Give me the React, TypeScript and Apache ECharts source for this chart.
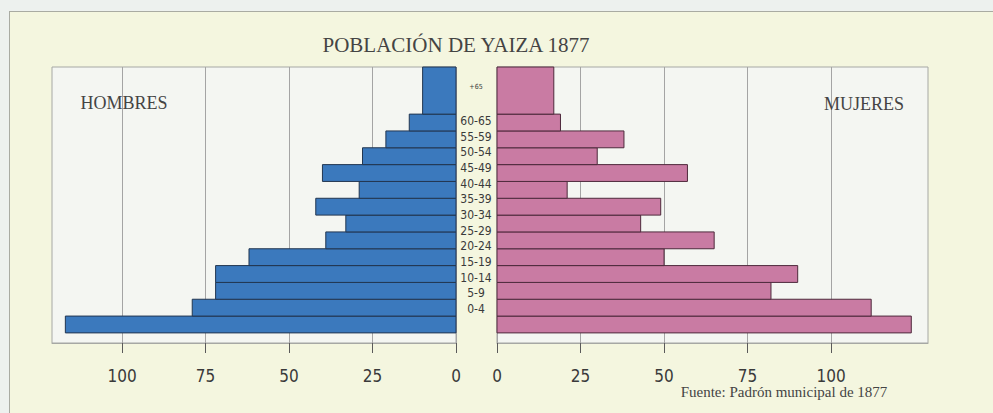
import React, { useEffect, useRef } from "react";
import * as echarts from "echarts";

const AGE_GROUPS = ["0-4", "5-9", "10-14", "15-19", "20-24", "25-29", "30-34", "35-39", "40-44", "45-49", "50-54", "55-59", "60-65", "+65"];
const HOMBRES = [117, 79, 72, 72, 62, 39, 33, 42, 29, 40, 28, 21, 14, 10];
const MUJERES = [124, 112, 82, 90, 50, 65, 43, 49, 21, 57, 30, 38, 19, 17];
const TICKS = [0, 25, 50, 75, 100];

const TITLE = "POBLACIÓN DE YAIZA 1877";
const LEFT_LABEL = "HOMBRES";
const RIGHT_LABEL = "MUJERES";
const SOURCE = "Fuente: Padrón municipal de 1877";

const NARROW = "'Liberation Sans Narrow', 'DejaVu Sans Condensed', 'Roboto Condensed', 'Liberation Sans', Arial, sans-serif";
const SERIF = "'Liberation Serif', 'DejaVu Serif', serif";

const LAST = AGE_GROUPS.length - 1;
const TOP_SPAN = 2.8;

function makeRender(fill: string, stroke: string) {
  return (params: any, api: any) => {
    const v = api.value(0);
    const i = api.value(1);
    const span = i === LAST ? TOP_SPAN : 1;
    const p0 = api.coord([0, i]);
    const p1 = api.coord([v, i + span]);
    return {
      type: "rect",
      shape: {
        x: Math.min(p0[0], p1[0]),
        y: Math.min(p0[1], p1[1]),
        width: Math.abs(p1[0] - p0[0]),
        height: Math.abs(p1[1] - p0[1]),
      },
      style: { fill, stroke, lineWidth: 1 },
    };
  };
}

export default function App() {
  const ref = useRef<HTMLDivElement>(null);
  useEffect(() => {
    document.body.style.margin = "0";
    const chart = echarts.init(ref.current!, null, { renderer: "svg" });
    const gridBase = {
      show: true,
      backgroundColor: "#f4f6f2",
      borderColor: "#a6a8a4",
      borderWidth: 1,
      containLabel: false,
    };
    const xAxisBase = (max: number, inverse: boolean, gridIndex: number) => ({
      type: "value",
      gridIndex,
      position: "bottom",
      min: 0,
      max,
      inverse,
      interval: 25,
      axisLine: { show: true, onZero: false, lineStyle: { color: "#a6a8a4", width: 1 } },
      axisTick: { show: true, inside: false, length: 10, customValues: TICKS, lineStyle: { color: "#5a5a5a", width: 1 } },
      axisLabel: {
        customValues: TICKS,
        fontFamily: NARROW,
        fontSize: 17,
        color: "#3a3a3a",
        margin: 24,
      },
      splitLine: { show: true, lineStyle: { color: "#a4a4a4", width: 1 } },
    });
    const yValue = (gridIndex: number) => ({
      type: "value",
      gridIndex,
      min: -0.6,
      max: LAST + TOP_SPAN,
      show: false,
      splitLine: { show: false },
    });
    chart.setOption({
      animation: false,
      grid: [
        { ...gridBase, left: 52, top: 67, width: 404, height: 276 },
        { ...gridBase, left: 497, top: 67, width: 431, height: 276 },
        { left: 476, top: 113, width: 1, height: 204, show: false },
        { left: 476, top: 70, width: 1, height: 33, show: false },
      ],
      xAxis: [
        xAxisBase(121, true, 0),
        xAxisBase(129, false, 1),
        { type: "value", gridIndex: 2, show: false },
        { type: "value", gridIndex: 3, show: false },
      ],
      yAxis: [
        yValue(0),
        yValue(1),
        {
          type: "category",
          gridIndex: 2,
          data: AGE_GROUPS.slice(0, LAST),
          axisLine: { show: false },
          axisTick: { show: false },
          axisLabel: { align: "center", margin: 0, fontFamily: NARROW, fontSize: 12, color: "#3a3a3a" },
        },
        {
          type: "category",
          gridIndex: 3,
          data: AGE_GROUPS.slice(LAST),
          axisLine: { show: false },
          axisTick: { show: false },
          axisLabel: { align: "center", margin: 0, fontFamily: NARROW, fontSize: 7, color: "#3a3a3a" },
        },
      ],
      series: [
        {
          type: "custom",
          name: LEFT_LABEL,
          xAxisIndex: 0,
          yAxisIndex: 0,
          renderItem: makeRender("#3b79bd", "#223650"),
          data: HOMBRES.map((v, i) => [v, i]),
          z: 5,
        },
        {
          type: "custom",
          name: RIGHT_LABEL,
          xAxisIndex: 1,
          yAxisIndex: 1,
          renderItem: makeRender("#c97ba3", "#4e2a3c"),
          data: MUJERES.map((v, i) => [v, i]),
          z: 5,
        },
      ],
      graphic: [
        {
          type: "text",
          z: 100,
          x: 456,
          y: 45,
          style: { text: TITLE, font: `21px ${SERIF}`, fill: "#444", textAlign: "center", textVerticalAlign: "middle" },
        },
        {
          type: "text",
          z: 100,
          x: 124,
          y: 103,
          style: { text: LEFT_LABEL, font: `18px ${SERIF}`, fill: "#444", textAlign: "center", textVerticalAlign: "middle" },
        },
        {
          type: "text",
          z: 100,
          x: 864,
          y: 104,
          style: { text: RIGHT_LABEL, font: `18px ${SERIF}`, fill: "#444", textAlign: "center", textVerticalAlign: "middle" },
        },
        {
          type: "text",
          z: 100,
          x: 784,
          y: 392,
          style: { text: SOURCE, font: `15px ${SERIF}`, fill: "#444", textAlign: "center", textVerticalAlign: "middle" },
        },
      ],
    });
    return () => chart.dispose();
  }, []);
  return (
    <div style={{ position: "relative", width: 993, height: 413, overflow: "hidden", background: "#edf1ee" }}>
      <div
        style={{
          position: "absolute",
          left: 9,
          top: 11,
          width: 1100,
          height: 500,
          background: "#f4f6df",
          border: "1px solid #a9aba2",
          boxSizing: "border-box",
        }}
      />
      <div ref={ref} style={{ position: "absolute", left: 0, top: 0, width: 993, height: 413 }} />
    </div>
  );
}
